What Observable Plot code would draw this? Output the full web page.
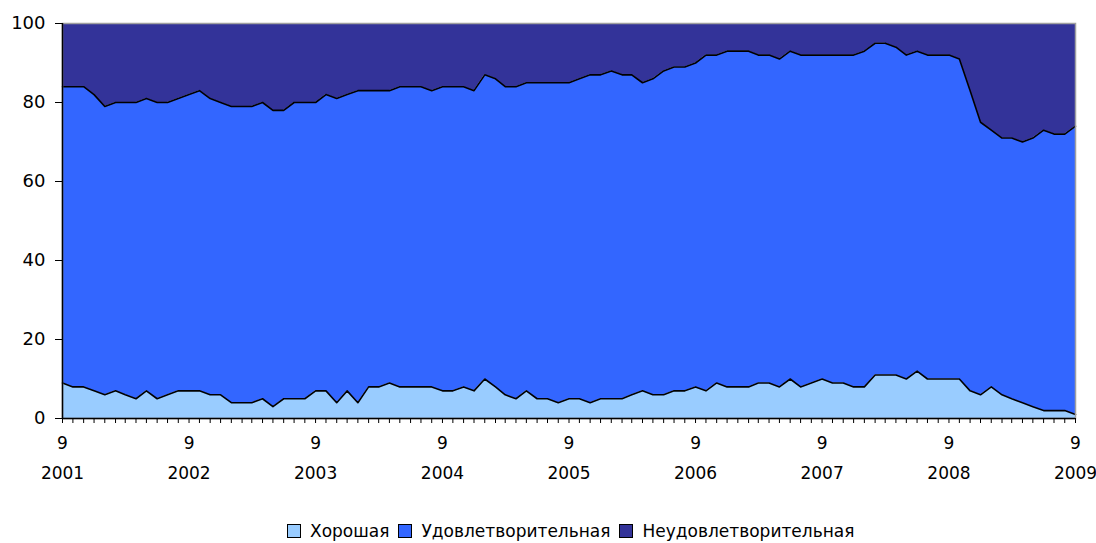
<!DOCTYPE html>
<html>
<head>
<meta charset="utf-8">
<script src="https://cdn.jsdelivr.net/npm/d3@7"></script>
<script src="https://cdn.jsdelivr.net/npm/@observablehq/plot@0.6"></script>
<style>
  html, body { margin: 0; padding: 0; background: #fff; }
  #wrap { position: relative; width: 1096px; height: 543px; font-family: "DejaVu Sans", sans-serif; }
  #legend { position: absolute; left: 287px; top: 521px; display: flex; align-items: center; font-size: 17px; color: #000; white-space: nowrap; }
  .sw { width: 12px; height: 12px; border: 1px solid #000; margin-right: 9px; }
  .it { display: flex; align-items: center; margin-right: 9px; }
</style>
</head>
<body>
<div id="wrap"><div id="chart"></div><div id="legend"></div></div>
<script>
// Series names (legend order)
const seriesNames = ["Хорошая", "Удовлетворительная", "Неудовлетворительная"];
const seriesColors = ["#99CCFF", "#3366FF", "#333399"];

// Monthly values, Sept 2001 .. Sept 2009 (97 months), percent
const good = [
  9,8,8,7,6,7,6,5,7,5,6,7,7,7,6,6,4,4,4,5,3,5,5,5,7,
  7,4,7,4,8,8,9,8,8,8,8,7,7,8,7,10,8,6,5,7,5,5,4,5,
  5,4,5,5,5,6,7,6,6,7,7,8,7,9,8,8,8,9,9,8,10,8,9,10,
  9,9,8,8,11,11,11,10,12,10,10,10,10,7,6,8,6,5,4,3,2,2,2,1
];
const satisfactory = [
  75,76,76,75,73,73,74,75,74,75,74,74,75,76,75,74,75,75,75,75,75,73,75,75,73,
  75,77,75,79,75,75,74,76,76,76,75,77,77,76,76,77,78,78,79,78,80,80,81,80,
  81,83,82,83,82,81,78,80,82,82,82,82,85,83,85,85,85,83,83,83,83,84,83,82,
  83,83,84,85,84,84,83,82,81,82,82,82,81,76,69,65,65,66,66,68,71,70,70,73
];
const unsatisfactory = [
  16,16,16,18,21,20,20,20,19,20,20,19,18,17,19,20,21,21,21,20,22,22,20,20,20,
  18,19,18,17,17,17,17,16,16,16,17,16,16,16,17,13,14,16,16,15,15,15,15,15,
  14,13,13,12,13,13,15,14,12,11,11,10,8,8,7,7,7,8,8,9,7,8,8,8,
  8,8,8,7,5,5,6,8,7,8,8,8,9,17,25,27,29,29,30,29,27,28,28,26
];

// Tick labels
const yearLabels = ["2001","2002","2003","2004","2005","2006","2007","2008","2009"];
const monthLabel = "9";
const yTicks = [0, 20, 40, 60, 80, 100];

const start = new Date(Date.UTC(2001, 8, 1));
const dates = good.map((_, i) => d3.utcMonth.offset(start, i));
const seriesValues = [good, satisfactory, unsatisfactory];
const rows = [];
seriesNames.forEach((s, k) => seriesValues[k].forEach((v, i) => rows.push({date: dates[i], series: s, value: v})));
const septembers = yearLabels.map(y => new Date(Date.UTC(+y, 8, 1)));

const font = "DejaVu Sans, sans-serif";
const stackOpts = {x: "date", y: "value", z: "series", order: seriesNames};

const chart = Plot.plot({
  width: 1096,
  height: 500,
  marginLeft: 62,
  marginRight: 21,
  marginTop: 23,
  marginBottom: 82,
  style: {fontFamily: font, fontSize: "18px", color: "#000", background: "#fff"},
  x: {type: "utc", domain: [dates[0], dates[dates.length - 1]]},
  y: {domain: [0, 100]},
  color: {domain: seriesNames, range: seriesColors},
  marks: [
    Plot.areaY(rows, Plot.stackY({...stackOpts, fill: "series", curve: "linear"})),
    Plot.lineY(rows.filter(d => d.series !== seriesNames[2]), Plot.stackY2({...stackOpts, stroke: "#000", strokeWidth: 1.6})),
    Plot.frame({stroke: "#a0a0a0", strokeWidth: 1.5}),
    Plot.ruleX([dates[0]], {stroke: "#000", strokeWidth: 1.5}),
    Plot.ruleY([0], {stroke: "#000", strokeWidth: 1.5}),
    Plot.axisY({ticks: yTicks, tickSize: 7, tickPadding: 10, label: null, fontSize: 18}),
    Plot.axisX({ticks: dates, tickSize: 5, tickFormat: () => "", label: null}),
    Plot.text(septembers, {x: d => d, text: () => monthLabel, frameAnchor: "bottom", dy: 30, fontSize: 17}),
    Plot.text(septembers, {x: d => d, text: (d, i) => yearLabels[i], frameAnchor: "bottom", dy: 60, fontSize: 17})
  ]
});
document.getElementById("chart").appendChild(chart);

const legend = document.getElementById("legend");
seriesNames.forEach((s, k) => {
  const it = document.createElement("div");
  it.className = "it";
  const sw = document.createElement("div");
  sw.className = "sw";
  sw.style.background = seriesColors[k];
  const tx = document.createElement("span");
  tx.textContent = s;
  it.appendChild(sw); it.appendChild(tx);
  legend.appendChild(it);
});
</script>
</body>
</html>
